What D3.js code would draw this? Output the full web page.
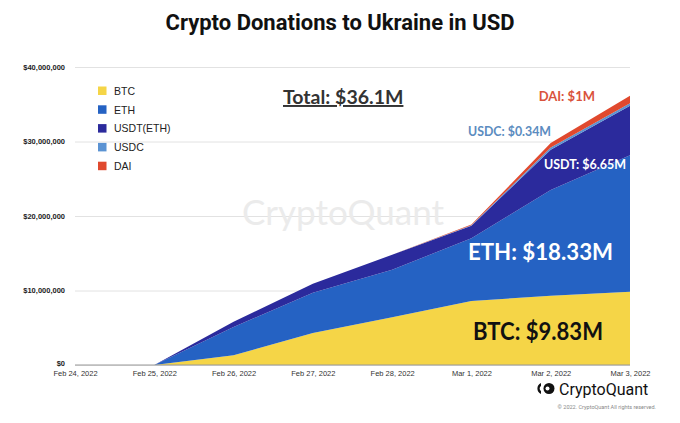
<!DOCTYPE html>
<html>
<head>
<meta charset="utf-8">
<title>Crypto Donations to Ukraine in USD</title>
<script src="https://cdn.jsdelivr.net/npm/d3@7/dist/d3.min.js"></script>
<style>
body { margin: 0; background: #fff; }
.axis text { font-family: "Liberation Sans", Arial, sans-serif; }
.grid line { stroke: #e2e2e2; }
.grid path { display: none; }
</style>
</head>
<body>
<script>

// dates on the x axis
var dates = ["Feb 24, 2022", "Feb 25, 2022", "Feb 26, 2022", "Feb 27, 2022",
             "Feb 28, 2022", "Mar 1, 2022", "Mar 2, 2022", "Mar 3, 2022"];

// cumulative donations per coin, in millions of USD
var btc  = [0, 0, 1.3, 4.3, 6.4, 8.6, 9.3, 9.83];
var eth  = [0, 0, 3.8, 5.4, 6.4, 8.4, 14.2, 18.33];
var usdt = [0, 0, 0.7, 1.2, 2.0, 1.7, 5.4, 6.65];
var usdc = [0, 0, 0, 0, 0, 0.05, 0.3, 0.34];
var dai  = [0, 0, 0, 0, 0, 0.1, 0.6, 1.0];

var seriesNames = ["BTC", "ETH", "USDT(ETH)", "USDC", "DAI"];
var colors = ["#f5d547", "#2562c3", "#2b2a9c", "#5b93d3", "#e0492e"];
var yTicks = [0, 10, 20, 30, 40];

var width = 680, height = 423;
var margin = {top: 67, right: 50, bottom: 58, left: 75};
var innerW = width - margin.left - margin.right,
    innerH = height - margin.top - margin.bottom;

var table = dates.map(function(d, i) {
    return {date: d, "BTC": btc[i], "ETH": eth[i], "USDT(ETH)": usdt[i], "USDC": usdc[i], "DAI": dai[i]};
});

var svg = d3.select("body").append("svg")
    .attr("width", width)
    .attr("height", height);

// title
svg.append("text")
    .attr("x", 340)
    .attr("y", 30)
    .attr("text-anchor", "middle")
    .style("font-family", "Roboto, sans-serif")
    .style("font-weight", "bold")
    .style("font-size", "22px")
    .style("fill", "#111")
    .text("Crypto Donations to Ukraine in USD");

var g = svg.append("g")
    .attr("transform", "translate(" + margin.left + "," + margin.top + ")");

var x = d3.scalePoint()
    .domain(dates)
    .range([0, innerW]);

var y = d3.scaleLinear()
    .domain([0, 40])
    .range([innerH, 0]);

// grid
g.append("g")
    .attr("class", "grid")
    .call(d3.axisLeft(y).tickValues(yTicks).tickSize(-innerW).tickFormat(""));

// watermark
g.append("text")
    .attr("x", 268)
    .attr("y", 158)
    .attr("text-anchor", "middle")
    .style("font-family", "Lato, sans-serif")
    .style("font-size", "35px")
    .style("fill", "#ebebeb")
    .text("CryptoQuant");

var stack = d3.stack().keys(seriesNames);
var layers = stack(table);

var area = d3.area()
    .x(function(d) { return x(d.data.date); })
    .y0(function(d) { return y(d[0]); })
    .y1(function(d) { return y(d[1]); });

g.selectAll(".layer")
    .data(layers)
  .enter().append("path")
    .attr("class", "layer")
    .attr("d", area)
    .style("fill", function(d, i) { return colors[i]; });

// baseline
g.append("line")
    .attr("x1", 0).attr("x2", innerW)
    .attr("y1", y(0)).attr("y2", y(0))
    .style("stroke", "#999");

// y axis labels
var yAxis = g.append("g")
    .attr("class", "axis")
    .call(d3.axisLeft(y).tickValues(yTicks).tickSize(0).tickPadding(10)
        .tickFormat(function(d) { return "$" + d3.format(",")(d * 1000000); }));
yAxis.select(".domain").remove();
yAxis.selectAll("text")
    .style("font-size", "7.5px")
    .style("font-weight", "bold")
    .style("fill", "#222");
yAxis.selectAll(".tick").filter(function(d) { return d === 0; })
    .select("text").attr("dy", "0.1em");

// x axis labels
var xAxis = g.append("g")
    .attr("class", "axis")
    .attr("transform", "translate(0," + innerH + ")")
    .call(d3.axisBottom(x).tickSize(0).tickPadding(6));
xAxis.select(".domain").remove();
xAxis.selectAll("text")
    .style("font-size", "7.5px")
    .style("fill", "#333");

// legend
var legend = g.selectAll(".legend")
    .data(seriesNames)
  .enter().append("g")
    .attr("class", "legend")
    .attr("transform", function(d, i) { return "translate(23," + (24 + i * 18.8) + ")"; });

legend.append("rect")
    .attr("width", 8.5)
    .attr("height", 8.5)
    .attr("y", -4.5)
    .style("fill", function(d, i) { return colors[i]; });

legend.append("text")
    .attr("x", 16)
    .attr("y", 3.8)
    .style("font-family", "Liberation Sans, Arial, sans-serif")
    .style("font-size", "10.5px")
    .style("fill", "#222")
    .text(function(d) { return d; });

// annotations (Calibri-like, so squeeze Lato a little)
var last = dates[dates.length - 1];
function note(txt, xp, yp, size, color, len) {
    var t = g.append("text")
        .attr("x", xp)
        .attr("y", yp)
        .attr("text-anchor", "end")
        .style("font-family", "Lato, sans-serif")
        .style("font-weight", "bold")
        .style("font-size", size + "px")
        .style("fill", color)
        .text(txt);
    if (len) t.attr("textLength", len).attr("lengthAdjust", "spacingAndGlyphs");
}

var total = d3.sum([btc, eth, usdt, usdc, dai], function(s) { return s[s.length - 1]; });
g.append("text")
    .attr("x", 208)
    .attr("y", 37)
    .style("font-family", "Lato, sans-serif")
    .style("font-weight", "bold")
    .style("font-size", "19.5px")
    .style("fill", "#333")
    .style("text-decoration", "underline")
    .text("Total: $" + d3.format(".1f")(total) + "M");

note("DAI: $1M", x(last) - 35, 34, 13, "#d9533c");
note("USDC: $0.34M", x(last) - 79, 69, 13, "#5b8cc0", 83);
note("USDT: $6.65M", x(last) - 4, 102, 13, "#ffffff", 82);
note("ETH: $18.33M", x(last) - 17, 193, 23.5, "#ffffff", 145);
note("BTC: $9.83M", x(last) - 27, 273, 25, "#111", 130);

// CryptoQuant brand, bottom right
var brand = svg.append("g");
brand.append("path")
    .attr("d", "M541,383 a6,6 0 0,0 0,11 l0,-3 a3,3 0 0,1 0,-5 z")
    .style("fill", "#111");
brand.append("circle")
    .attr("cx", 549)
    .attr("cy", 388.5)
    .attr("r", 5.5)
    .style("fill", "#111");
brand.append("circle")
    .attr("cx", 547.5)
    .attr("cy", 388.5)
    .attr("r", 2)
    .style("fill", "#fff");
brand.append("text")
    .attr("x", 559)
    .attr("y", 395)
    .style("font-family", "Roboto, sans-serif")
    .style("font-size", "16px")
    .style("fill", "#111")
    .text("CryptoQuant");
brand.append("text")
    .attr("x", 656)
    .attr("y", 409)
    .attr("text-anchor", "end")
    .style("font-family", "Roboto, sans-serif")
    .style("font-size", "5.5px")
    .style("fill", "#888")
    .text("© 2022. CryptoQuant All rights reserved.");

</script>
</body>
</html>
